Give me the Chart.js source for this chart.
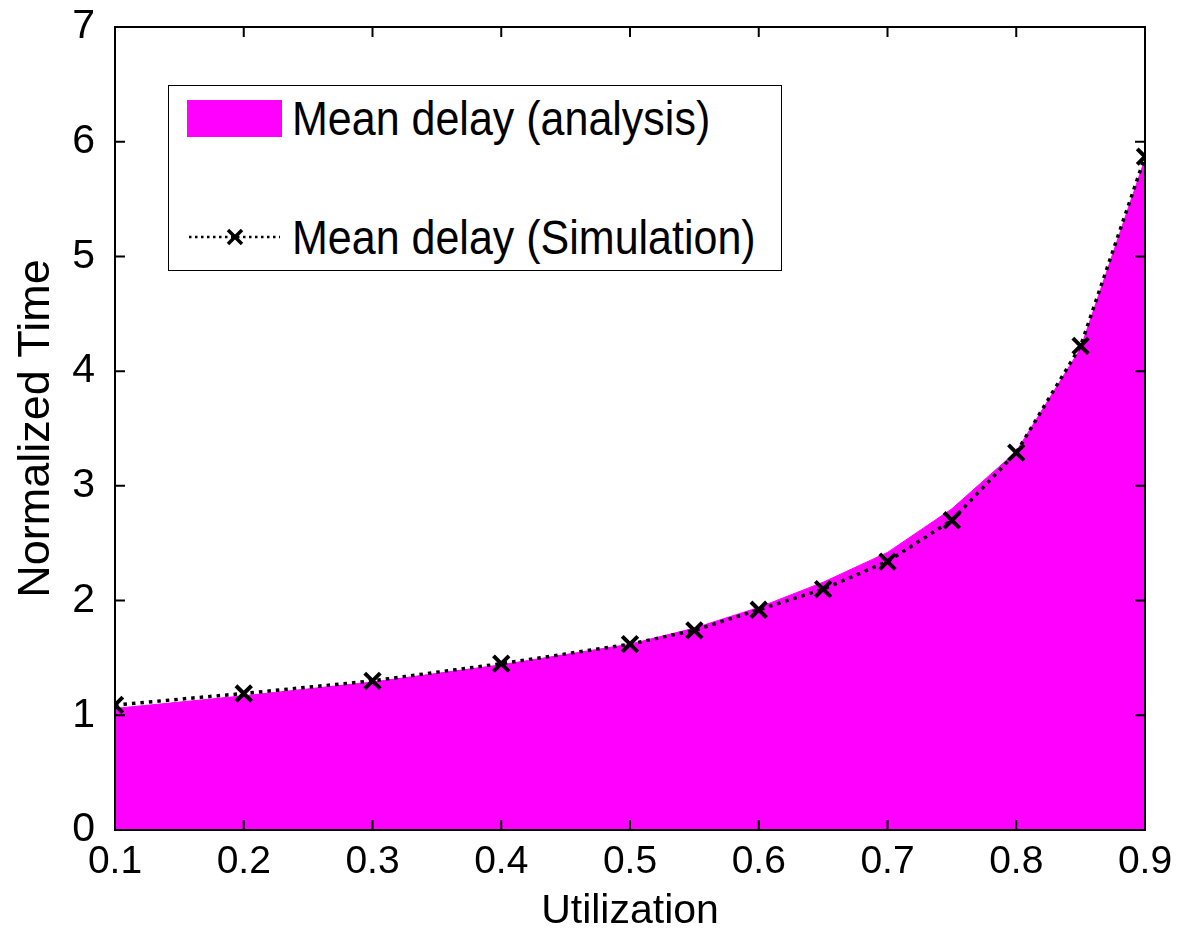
<!DOCTYPE html>
<html>
<head>
<meta charset="utf-8">
<script src="https://cdn.jsdelivr.net/npm/chart.js@4.4.1/dist/chart.umd.min.js"></script>
<style>
  body { margin: 0; background: #fff; }
  #wrap { position: relative; width: 1182px; height: 936px; }
  #legend {
    position: absolute; left: 168px; top: 85px; width: 614px; height: 186px;
    border: 1.5px solid #000; background: #fff; box-sizing: border-box;
    font-family: "Liberation Sans", Arial, sans-serif; font-size: 43px; color: #000;
  }
  .row { position: absolute; left: 18px; display: flex; align-items: center; white-space: nowrap; }
  .txt { display: inline-block; transform: scaleY(1.12); }
  .swatch { width: 95px; height: 37px; background: #ff00ff; margin-right: 10px; }
</style>
</head>
<body>
<div id="wrap">
  <canvas id="myChart" width="1182" height="936"></canvas>
  <div id="legend">
    <div class="row" style="top:8px"><div class="swatch"></div><span class="txt">Mean delay (analysis)</span></div>
    <div class="row" style="top:127px">
      <svg width="95" height="37" style="margin-right:10px">
        <line x1="2" y1="18" x2="93" y2="18" stroke="#000" stroke-width="2.5" stroke-dasharray="2.5,3.5"/>
        <path d="M41 11 L55 25 M55 11 L41 25" stroke="#000" stroke-width="3.5"/>
      </svg><span class="txt">Mean delay (Simulation)</span>
    </div>
  </div>
</div>
<script>
// Data
let utilization = [0.1, 0.2, 0.3, 0.4, 0.5, 0.55, 0.6, 0.65, 0.7, 0.75, 0.8, 0.85, 0.9];
let analysisDelay = [1.06, 1.17, 1.29, 1.44, 1.62, 1.76, 1.94, 2.16, 2.42, 2.80, 3.30, 4.20, 5.85];
let simulationDelay = [1.09, 1.19, 1.30, 1.45, 1.62, 1.74, 1.92, 2.10, 2.34, 2.70, 3.29, 4.22, 5.87];
let xTicks = [0.1, 0.2, 0.3, 0.4, 0.5, 0.6, 0.7, 0.8, 0.9];
let yTicks = [0, 1, 2, 3, 4, 5, 6, 7];

function toPoints(xs, ys) {
  return xs.map((x, i) => ({ x: x, y: ys[i] }));
}

const font = "'Liberation Sans', Arial, sans-serif";

// Box around the plot with inward ticks on all four sides (MATLAB style)
const boxPlugin = {
  id: "box",
  afterDraw(chart) {
    const ctx = chart.ctx;
    const a = chart.chartArea;
    const xs = chart.scales.x;
    const ys = chart.scales.y;
    const len = 10;
    ctx.save();
    ctx.strokeStyle = "#000";
    ctx.lineWidth = 2;
    ctx.strokeRect(a.left, a.top, a.right - a.left, a.bottom - a.top);
    ctx.beginPath();
    xTicks.forEach(v => {
      const px = xs.getPixelForValue(v);
      ctx.moveTo(px, a.bottom); ctx.lineTo(px, a.bottom - len);
      ctx.moveTo(px, a.top); ctx.lineTo(px, a.top + len);
    });
    yTicks.forEach(v => {
      const py = ys.getPixelForValue(v);
      ctx.moveTo(a.left, py); ctx.lineTo(a.left + len, py);
      ctx.moveTo(a.right, py); ctx.lineTo(a.right - len, py);
    });
    ctx.stroke();
    ctx.restore();
  }
};

const ctx = document.getElementById("myChart").getContext("2d");
const myChart = new Chart(ctx, {
  type: "scatter",
  data: {
    datasets: [
      {
        label: "Mean delay (analysis)",
        data: toPoints(utilization, analysisDelay),
        showLine: true,
        fill: "origin",
        backgroundColor: "#ff00ff",
        borderColor: "#ff00ff",
        borderWidth: 1,
        pointRadius: 0,
        tension: 0,
        order: 1,
      },
      {
        label: "Mean delay (Simulation)",
        data: toPoints(utilization, simulationDelay),
        showLine: true,
        fill: false,
        borderColor: "#000",
        borderWidth: 3.5,
        borderDash: [3.5, 5],
        pointStyle: "crossRot",
        pointRadius: 11,
        pointBorderWidth: 4,
        pointBorderColor: "#000",
        tension: 0,
        order: 0,
      },
    ],
  },
  options: {
    responsive: false,
    animation: false,
    layout: { padding: { top: 27, right: 37, left: 0, bottom: 0 } },
    plugins: { legend: { display: false }, tooltip: { enabled: false } },
    scales: {
      x: {
        type: "linear",
        min: 0.1,
        max: 0.9,
        afterBuildTicks: s => { s.ticks = xTicks.map(v => ({ value: v })); },
        afterFit: s => { s.height = 106; s.paddingLeft = 0; s.paddingRight = 0; },
        grid: { display: false },
        border: { display: false },
        ticks: {
          color: "#000",
          font: { family: font, size: 39 },
          padding: 1,
          maxRotation: 0,
          callback: v => v.toFixed(1),
        },
        title: {
          display: true,
          text: "Utilization",
          color: "#000",
          font: { family: font, size: 41 },
          padding: { top: -6, bottom: 0 },
        },
      },
      y: {
        min: 0,
        max: 7,
        afterBuildTicks: s => { s.ticks = yTicks.map(v => ({ value: v })); },
        afterFit: s => { s.width = 115; s.paddingTop = 0; s.paddingBottom = 0; },
        grid: { display: false },
        border: { display: false },
        ticks: {
          color: "#000",
          font: { family: font, size: 41 },
          padding: 12,
        },
        title: {
          display: true,
          text: "Normalized Time",
          color: "#000",
          font: { family: font, size: 45 },
          padding: { top: 10, bottom: 0 },
        },
      },
    },
  },
  plugins: [boxPlugin],
});
</script>
</body>
</html>
